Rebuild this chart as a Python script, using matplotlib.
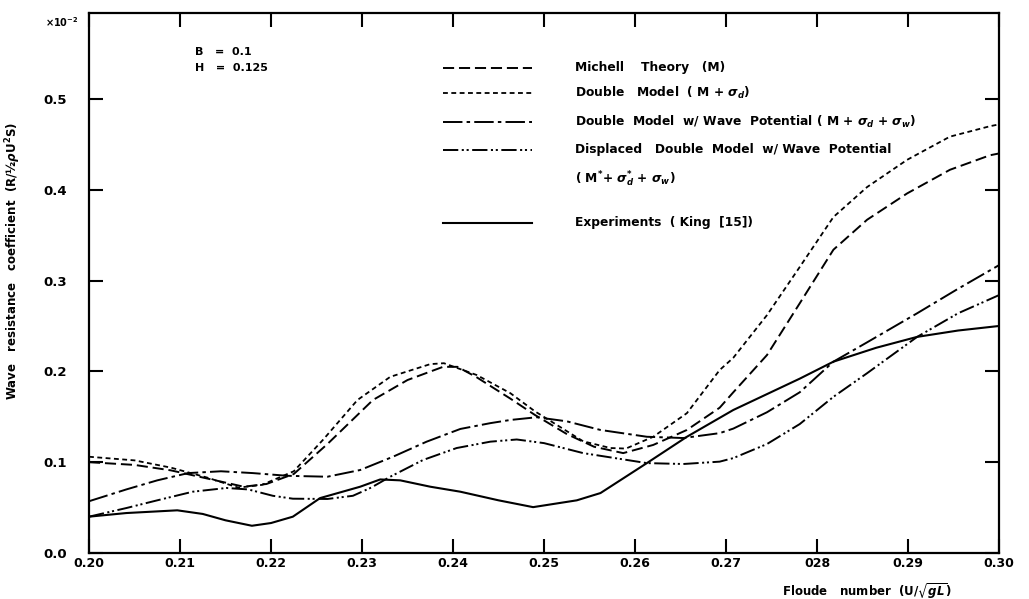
"""
Wave resistance coefficient vs Froude number, B = 0.1, H = 0.125.
Comparison of Michell theory, double model variants and experiments.
"""

import matplotlib
matplotlib.use("Agg")
import matplotlib.pyplot as plt
from matplotlib.lines import Line2D


plt.rcParams.update({
    "font.family": "DejaVu Sans",
    "font.weight": "bold",
    "font.size": 8,
    "axes.linewidth": 1.6,
    "lines.scale_dashes": False,
})


# ---------------------------------------------------------------------
# Data (values in units of 1e-2)
# ---------------------------------------------------------------------

michell_fn = [0.200, 0.205, 0.209, 0.213, 0.217, 0.2195, 0.2225, 0.2262,
              0.2312, 0.235, 0.2389, 0.2405, 0.2426, 0.2463, 0.249, 0.2525,
              0.2555, 0.2587, 0.262, 0.2657, 0.2693, 0.2708, 0.2745, 0.2781,
              0.2818, 0.2855, 0.2899, 0.2946, 0.2990, 0.300]
michell_cw = [0.100, 0.097, 0.091, 0.082, 0.073, 0.076, 0.087, 0.120,
              0.1685, 0.1905, 0.205, 0.205, 0.1935, 0.170, 0.152, 0.131,
              0.117, 0.110, 0.119, 0.1355, 0.160, 0.177, 0.218, 0.275,
              0.334, 0.367, 0.396, 0.422, 0.438, 0.440]

double_fn = [0.200, 0.205, 0.209, 0.213, 0.2164, 0.219, 0.2225, 0.2257,
             0.2295, 0.2331, 0.2375, 0.239, 0.2426, 0.2463, 0.249, 0.2543,
             0.2573, 0.2590, 0.262, 0.2657, 0.2693, 0.2708, 0.2745, 0.2781,
             0.2818, 0.2855, 0.2899, 0.2946, 0.2990, 0.300]
double_cw = [0.106, 0.102, 0.094, 0.083, 0.072, 0.075, 0.090, 0.1245,
             0.1685, 0.194, 0.208, 0.209, 0.196, 0.176, 0.156, 0.123,
             0.1156, 0.115, 0.128, 0.154, 0.2015, 0.215, 0.262, 0.315,
             0.370, 0.403, 0.433, 0.4585, 0.470, 0.472]

wave_fn = [0.200, 0.2041, 0.2075, 0.2109, 0.2145, 0.218, 0.2218, 0.2262,
           0.2298, 0.2334, 0.2371, 0.2408, 0.2441, 0.2463, 0.2492, 0.2525,
           0.2562, 0.2613, 0.2653, 0.2693, 0.2708, 0.2745, 0.2781, 0.2818,
           0.2855, 0.291, 0.2955, 0.300]
wave_cw = [0.057, 0.070, 0.080, 0.088, 0.090, 0.088, 0.085, 0.084,
           0.0914, 0.106, 0.1226, 0.1366, 0.143, 0.1465, 0.1495, 0.145,
           0.1355, 0.128, 0.1266, 0.132, 0.137, 0.155, 0.177, 0.2107,
           0.232, 0.264, 0.291, 0.317]

displaced_fn = [0.200, 0.2041, 0.2075, 0.2114, 0.2151, 0.2175, 0.2202,
                0.2224, 0.2262, 0.2290, 0.2310, 0.2331, 0.2367, 0.2404,
                0.2441, 0.2470, 0.2500, 0.2543, 0.2613, 0.2653, 0.2693,
                0.2708, 0.2745, 0.2781, 0.2818, 0.2855, 0.291, 0.2955, 0.300]
displaced_cw = [0.040, 0.0495, 0.058, 0.0675, 0.0716, 0.070, 0.063,
                0.0598, 0.0595, 0.063, 0.072, 0.084, 0.1024, 0.1156,
                0.1226, 0.125, 0.121, 0.110, 0.099, 0.098, 0.1006,
                0.1045, 0.120, 0.142, 0.172, 0.198, 0.238, 0.264, 0.284]

exp_fn = [0.200, 0.2041, 0.2097, 0.2125, 0.2150, 0.2179, 0.2200, 0.2224,
          0.2254, 0.2298, 0.2320, 0.2342, 0.2375, 0.2408, 0.2450, 0.2488,
          0.2536, 0.2562, 0.2613, 0.2657, 0.2708, 0.2781, 0.2818, 0.2865,
          0.291, 0.2955, 0.300]
exp_cw = [0.040, 0.044, 0.047, 0.043, 0.036, 0.030, 0.033, 0.040,
          0.0605, 0.073, 0.081, 0.080, 0.073, 0.0675, 0.058, 0.0505,
          0.058, 0.066, 0.099, 0.128, 0.1575, 0.192, 0.2107, 0.226,
          0.238, 0.245, 0.250]

x_ticks = [0.20, 0.21, 0.22, 0.23, 0.24, 0.25, 0.26, 0.27, 0.28, 0.29, 0.30]
x_tick_labels = ["0.20", "0.21", "0.22", "0.23", "0.24", "0.25", "0.26",
                 "0.27", "028", "0.29", "0.30"]
y_ticks = [0.0, 0.1, 0.2, 0.3, 0.4, 0.5]
y_tick_labels = ["0.0", "0.1", "0.2", "0.3", "0.4", "0.5"]


# ---------------------------------------------------------------------
# Line styles
# ---------------------------------------------------------------------

styles = {
    "michell": dict(color="black", lw=1.4, dashes=(8, 3.5)),
    "double": dict(color="black", lw=1.3, dashes=(3.5, 2.5)),
    "wave": dict(color="black", lw=1.4, dashes=(14, 3, 2.5, 3)),
    "displaced": dict(color="black", lw=1.4, dashes=(11, 2.5, 1.5, 2, 1.5, 2.5)),
    "exp": dict(color="black", lw=1.5, linestyle="-"),
}


# ---------------------------------------------------------------------
# Figure
# ---------------------------------------------------------------------

fig = plt.figure(figsize=(10.29, 5.99), dpi=100)
ax = fig.add_axes([0.0865, 0.0768, 0.8844, 0.902])

ax.plot(michell_fn, michell_cw, **styles["michell"])
ax.plot(double_fn, double_cw, **styles["double"])
ax.plot(wave_fn, wave_cw, **styles["wave"])
ax.plot(displaced_fn, displaced_cw, **styles["displaced"])
ax.plot(exp_fn, exp_cw, **styles["exp"])

ax.set_xlim(0.20, 0.30)
ax.set_ylim(0.0, 0.595)

ax.set_xticks(x_ticks)
ax.set_xticklabels(x_tick_labels, fontsize=9, fontweight="bold")
ax.set_yticks(y_ticks)
ax.set_yticklabels(y_tick_labels, fontsize=9.5, fontweight="bold")
ax.tick_params(axis="both", direction="in", top=True, right=True,
               length=10, width=1.5)
ax.tick_params(axis="x", pad=3)
ax.tick_params(axis="y", pad=16)

ax.set_ylabel("Wave   resistance   coefficient  (R/½$\\rho$U$^2$S)",
              fontsize=8.5, fontweight="bold")
ax.yaxis.set_label_coords(-0.072, 0.54)
ax.set_xlabel("Floude   number  (U/$\\sqrt{gL}$)", fontsize=8.5,
              fontweight="bold")
ax.xaxis.set_label_coords(0.855, -0.052)

ax.text(-0.012, 0.995, r"$\times10^{-2}$", transform=ax.transAxes,
        ha="right", va="top", fontsize=7)

ax.text(0.1165, 0.927, "B   =  0.1", transform=ax.transAxes,
        ha="left", va="center", fontsize=8)
ax.text(0.1165, 0.898, "H   =  0.125", transform=ax.transAxes,
        ha="left", va="center", fontsize=8)

# hand-built legend, as in the original drawing
legend_rows = [
    ("michell", 0.898, "Michell    Theory   (M)"),
    ("double", 0.851, r"Double   Model  ( M + $\sigma_d$)"),
    ("wave", 0.798,
     r"Double  Model  w/ Wave  Potential ( M + $\sigma_d$ + $\sigma_w$)"),
    ("displaced", 0.746, "Displaced   Double  Model  w/ Wave  Potential"),
    ("exp", 0.611, "Experiments  ( King  [15])"),
]
for key, y, label in legend_rows:
    ax.add_line(Line2D([0.389, 0.487], [y, y], transform=ax.transAxes,
                       **styles[key]))
    ax.text(0.534, y, label, transform=ax.transAxes, ha="left",
            va="center", fontsize=8.8)
ax.text(0.534, 0.693, r"( M$^{*}$+ $\sigma_d^{*}$ + $\sigma_w$)",
        transform=ax.transAxes, ha="left", va="center", fontsize=8.8)

fig.savefig("out.png", dpi=100)
